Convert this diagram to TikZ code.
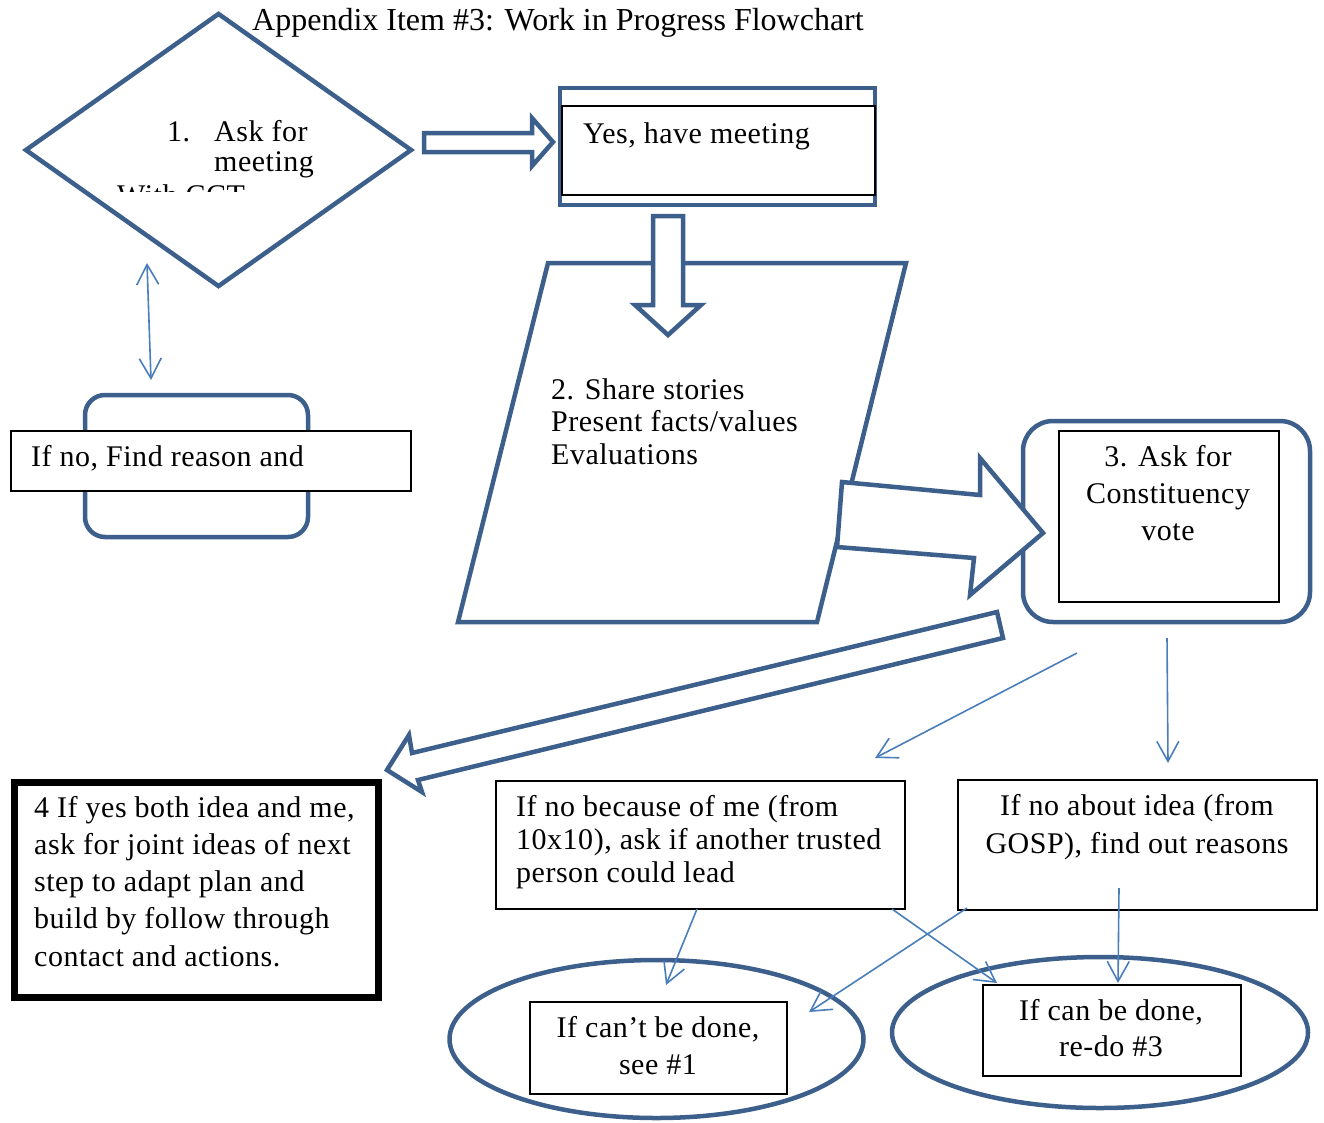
\documentclass[tikz,border=0pt]{standalone}
\usepackage{fontspec}
\setmainfont{Liberation Serif}
\newfontfamily\boxfont[LetterSpace=1.7]{Liberation Serif}
\usetikzlibrary{shapes.geometric,arrows.meta}
\definecolor{bdark}{RGB}{60,95,140}
\definecolor{bthin}{RGB}{74,126,187}
\newcommand{\Lrows}[1]{\begin{tabular}[t]{@{}l@{}}#1\end{tabular}}
\newcommand{\Crows}[1]{\begin{tabular}[t]{@{}c@{}}#1\end{tabular}}
\tikzset{
 bshape/.style={draw=bdark, line width=4.5pt, fill=white, inner sep=0pt},
 kbox/.style={draw=black, line width=1.5pt, fill=white, inner sep=0pt},
 blockarrow/.style={draw=bdark, line width=4.5pt, fill=white, line join=miter},
 thinarrow/.style={draw=bthin, line width=1.6pt, -{Straight Barb[length=20pt,width=22pt]}},
 txt/.style={inner sep=0pt, font=\boxfont\fontsize{30}{37}\selectfont},
}
\begin{document}
\begin{tikzpicture}[x=1pt,y=-1pt]
\useasboundingbox (0,0) rectangle (1324,1122);
% step 1 diamond
\node[bshape, diamond, minimum width=387pt, minimum height=274pt] (d1) at (218.5,150) {};
\node[txt, anchor=base west] (d1n) at (167,141) {1.};
\node[txt, anchor=base west] (d1a) at (214,141) {Ask for};
\node[txt, anchor=base west] (d1b) at (214,171) {meeting};
\begin{scope}
\clip (100,150) rectangle (300,191);
\node[txt, anchor=base west] (d1c) at (117,205) {With CCT};
\end{scope}
% title
\node[anchor=base west, inner sep=0pt, font=\fontsize{32}{38}\selectfont] (title) at (252,30) {Appendix Item \#3: Work in Progress Flowchart};
% if no
\node[bshape, rectangle, rounded corners=20pt, minimum width=223pt, minimum height=142pt] (nor) at (196.5,466) {};
\node[kbox, minimum width=400pt, minimum height=60pt] (nob) at (211,461) {};
\node[txt, anchor=base west] (not) at (31,466) {If no, Find reason and};
\coordinate (dA) at (147,263);
\coordinate (dB) at (151,380);
\draw[thinarrow, {Straight Barb[length=20pt,width=22pt]}-{Straight Barb[length=20pt,width=22pt]}] (dA) -- (dB);
% yes box
\node[bshape, rectangle, minimum width=315pt, minimum height=117pt] (yo) at (717.5,146.5) {};
\node[kbox, minimum width=313pt, minimum height=89pt] (yi) at (718.5,150.5) {};
\node[txt, anchor=base west] (yt) at (583,143) {Yes, have meeting};
\draw[blockarrow] (424,133) -- (532,133) -- (532,118) -- (553,142) -- (532,166) -- (532,152) -- (424,152) -- cycle;
% step 2
\coordinate (p1) at (548,263);
\coordinate (p2) at (906,263);
\coordinate (p3) at (817,622);
\coordinate (p4) at (458,622);
\draw[bshape] (p1) -- (p2) -- (p3) -- (p4) -- cycle;
\draw[blockarrow] (653,216) -- (683,216) -- (683,305) -- (701,305) -- (668,335) -- (635,305) -- (653,305) -- cycle;
\node[txt, font=\boxfont\fontsize{30}{32.5}\selectfont, anchor=base west] (s2) at (551,399) {\Lrows{2. Share stories\\Present facts/values\\Evaluations}};
% step 3
\node[bshape, rectangle, rounded corners=30pt, minimum width=287pt, minimum height=201pt] (s3o) at (1166.5,521.5) {};
\node[kbox, minimum width=220pt, minimum height=171pt] (s3i) at (1169,516.5) {};
\node[txt, anchor=base] (s3t) at (1168,466) {\Crows{3. Ask for\\Constituency\\vote}};
\draw[blockarrow] (842,482) -- (980,495) -- (980,458) -- (1043,533) -- (970,595) -- (974,558) -- (837,547) -- cycle;
% long arrow to step 4
\draw[blockarrow] (997,612) -- (1003,638) -- (418,780) -- (422,792) -- (387,770) -- (409,735) -- (412,753) -- cycle;
% step 4
\node[draw=black, line width=7.5pt, fill=white, inner sep=0pt, minimum width=364pt, minimum height=215pt] (b4) at (196.5,890) {};
\node[txt, font=\boxfont\fontsize{30}{37.3}\selectfont, anchor=base west] (b4t) at (34,817) {\Lrows{4 If yes both idea and me,\\ask for joint ideas of next\\step to adapt plan and\\build by follow through\\contact and actions.}};
% no because of me
\node[kbox, minimum width=409pt, minimum height=128pt] (nm) at (700.5,845) {};
\node[txt, font=\boxfont\fontsize{30}{33}\selectfont, anchor=base west] (nmt) at (516,816) {\Lrows{If no because of me (from\\10x10), ask if another trusted\\person could lead}};
% no about idea
\node[kbox, minimum width=359pt, minimum height=130pt] (ni) at (1137.5,845) {};
\node[txt, font=\boxfont\fontsize{30}{38}\selectfont, anchor=base] (nit) at (1137,815) {\Crows{If no about idea (from\\GOSP), find out reasons}};
% ellipses
\node[bshape, ellipse, minimum width=414pt, minimum height=158pt] (el) at (656.5,1039) {};
\node[bshape, ellipse, minimum width=416pt, minimum height=151pt] (er) at (1100,1032.5) {};
\node[kbox, minimum width=257pt, minimum height=92pt] (cl) at (658.5,1048) {};
\node[kbox, minimum width=258pt, minimum height=91pt] (cr) at (1112,1030.5) {};
\node[txt, anchor=base] (clt) at (658,1037) {\Crows{If can’t be done,\\see \#1}};
\node[txt, font=\boxfont\fontsize{30}{36}\selectfont, anchor=base] (crt) at (1111,1020) {\Crows{If can be done,\\re-do \#3}};
% thin arrows
\coordinate (a1s) at (1077,653); \coordinate (a1e) at (875,758);
\coordinate (a2s) at (1167,638); \coordinate (a2e) at (1168,763);
\coordinate (a3s) at (697,909); \coordinate (a3e) at (666,985);
\coordinate (a4s) at (892,909); \coordinate (a4e) at (997,983);
\coordinate (a5s) at (967,908); \coordinate (a5e) at (809,1012);
\coordinate (a6s) at (1119,888); \coordinate (a6e) at (1118,983);
\draw[thinarrow] (a1s) -- (a1e);
\draw[thinarrow] (a2s) -- (a2e);
\draw[thinarrow] (a3s) -- (a3e);
\draw[thinarrow] (a4s) -- (a4e);
\draw[thinarrow] (a5s) -- (a5e);
\draw[thinarrow] (a6s) -- (a6e);
\end{tikzpicture}
\end{document}
